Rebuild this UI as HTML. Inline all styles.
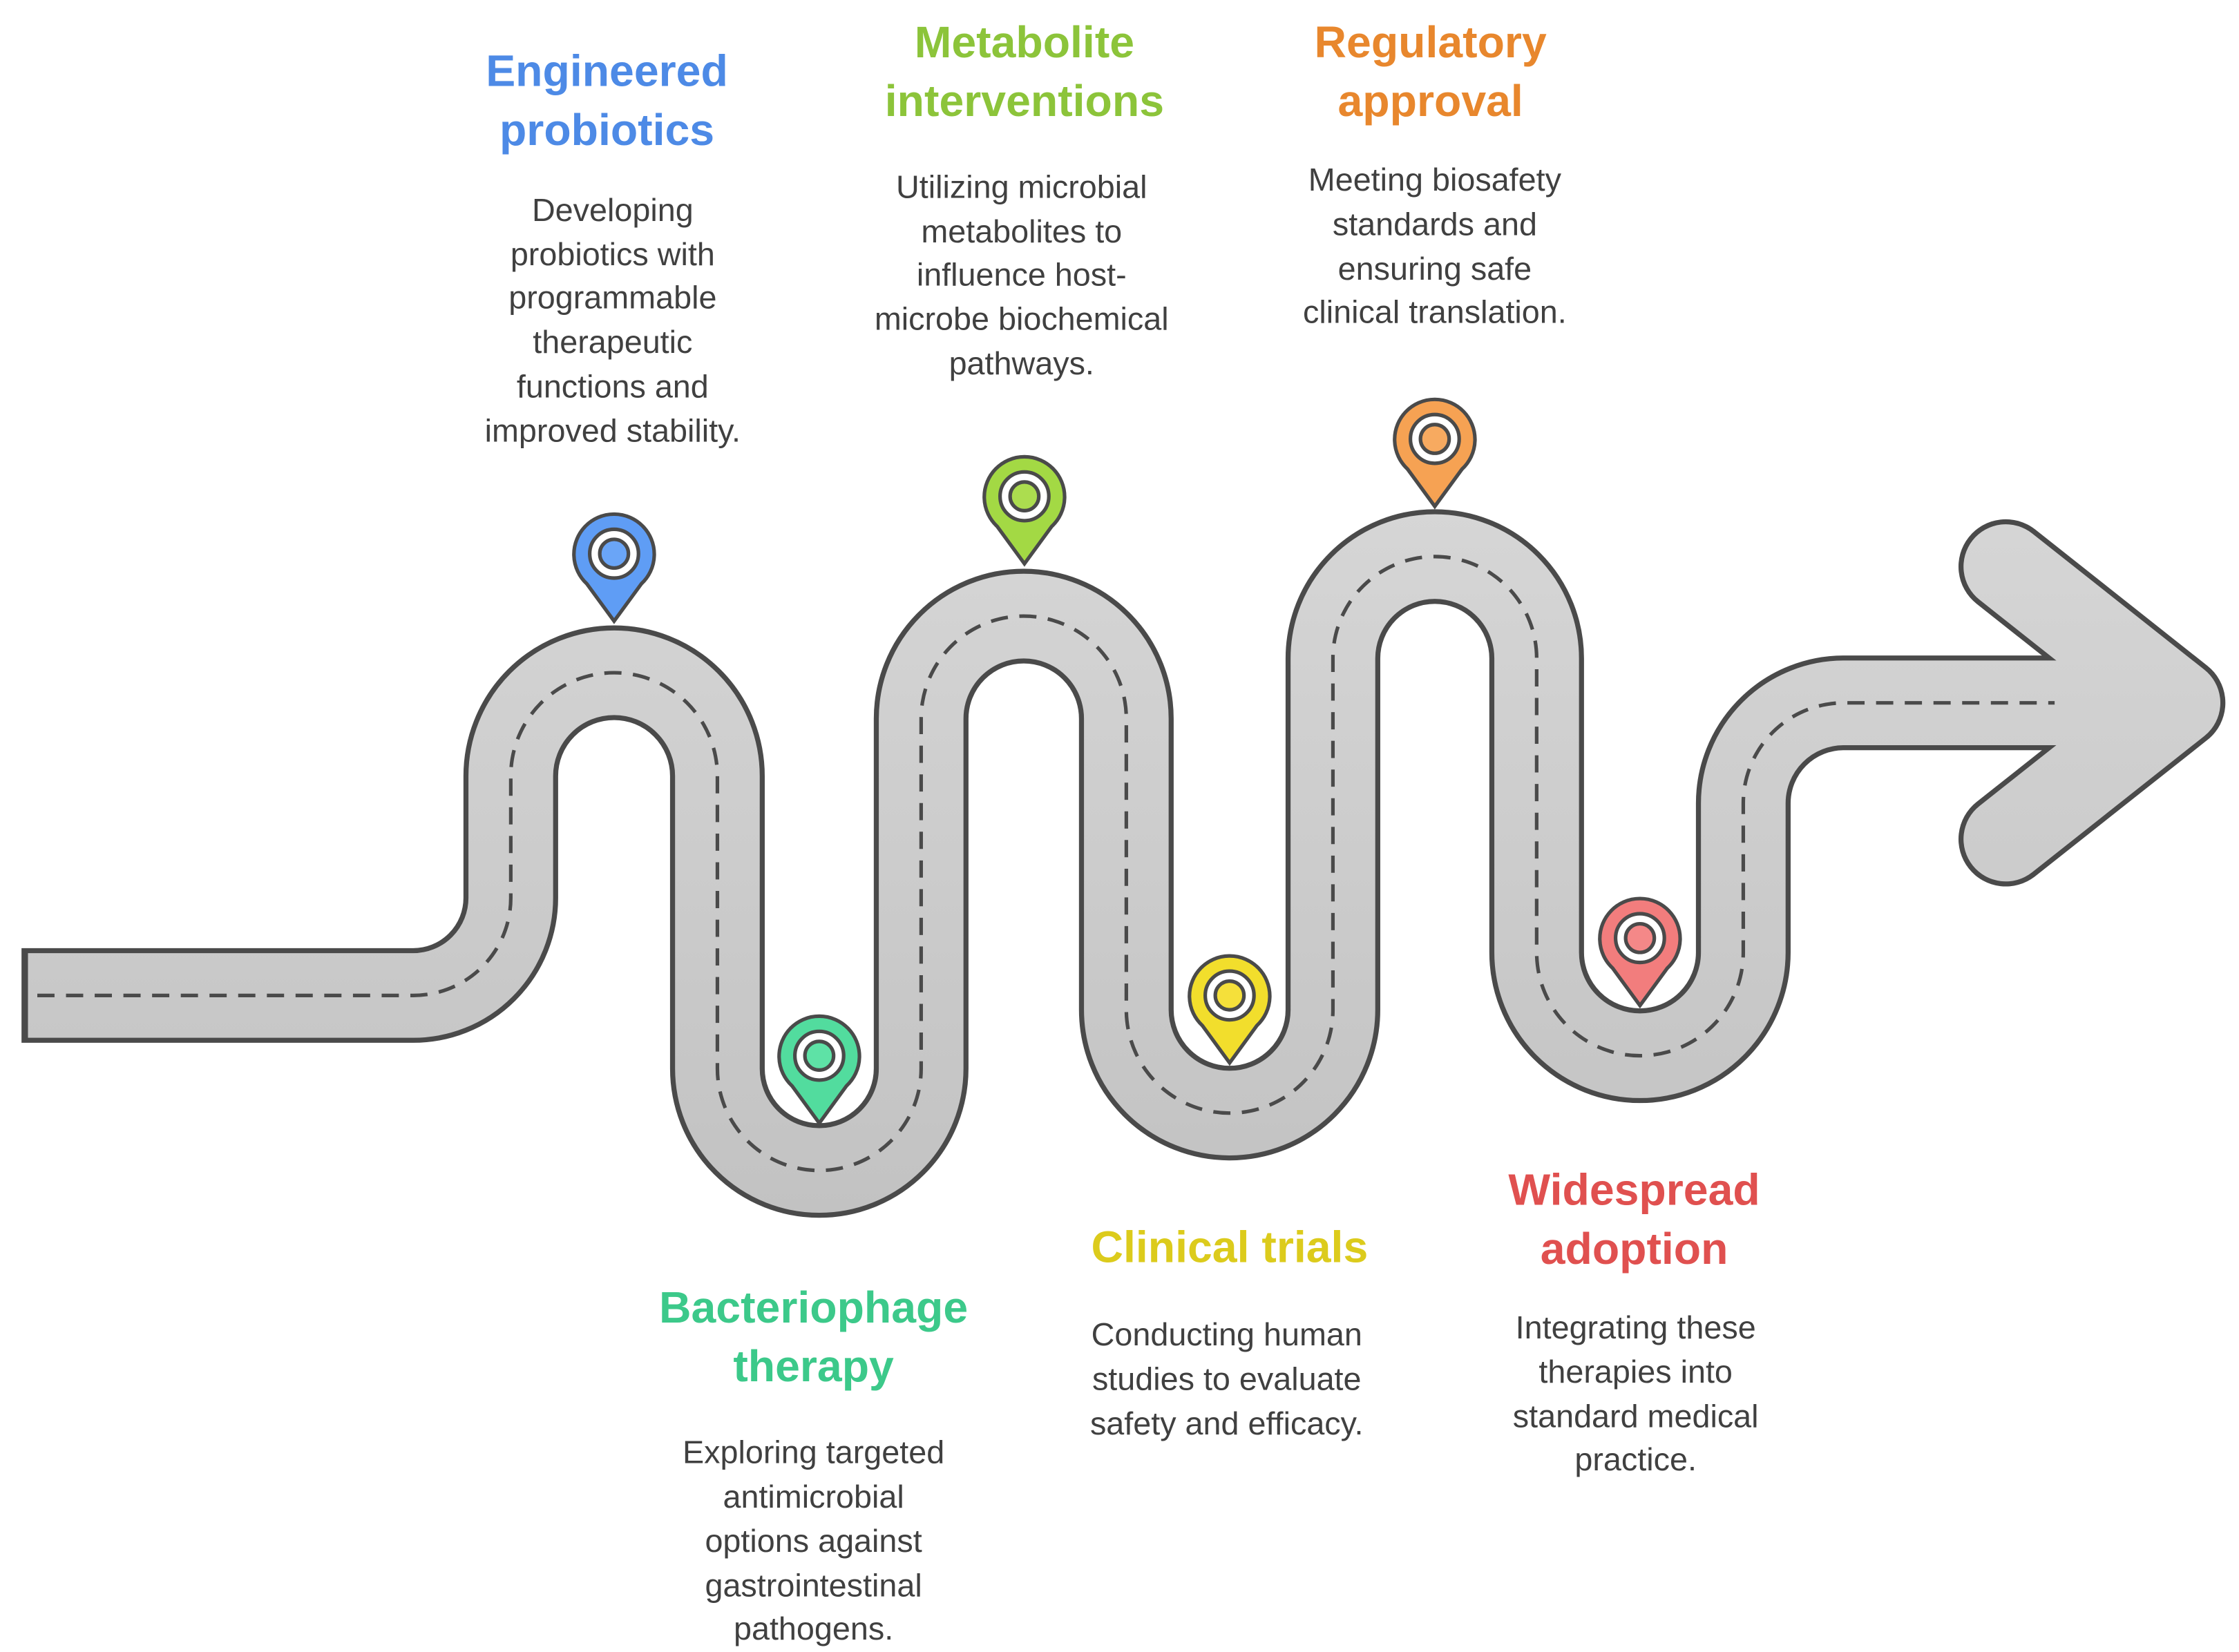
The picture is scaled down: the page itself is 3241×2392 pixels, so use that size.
<!DOCTYPE html>
<html><head><meta charset="utf-8"><style>
html,body{margin:0;padding:0;background:#fff;}
svg{display:block;}
.t{font-family:"Liberation Sans",sans-serif;font-weight:bold;font-size:31px;text-anchor:middle;}
.b{font-family:"Liberation Sans",sans-serif;font-size:22.5px;fill:#404040;text-anchor:middle;}
</style></head><body>
<svg width="3241" height="2392" viewBox="0 0 1560.5 1151.7" xmlns="http://www.w3.org/2000/svg">
<defs>
<linearGradient id="g" gradientUnits="userSpaceOnUse" x1="0" y1="350" x2="0" y2="850">
<stop offset="0" stop-color="#d6d6d6"/><stop offset="1" stop-color="#c2c2c2"/></linearGradient>
</defs>
<g fill="none">
<!-- dark outline -->
<path d="M15 694 H288 A68 68 0 0 0 356 626 V541 A72 72 0 0 1 500 541 V745 A71 71 0 0 0 642 745 V501 A71.5 71.5 0 0 1 785 501 V704 A72 72 0 0 0 929 704 V459 A71 71 0 0 1 1071 459 V664 A72 72 0 0 0 1215 664 V560 A70 70 0 0 1 1285 490 H1432" stroke="#4a4a4a" stroke-width="66"/>
<polyline points="1398,395 1518,490 1398,585" stroke="#4a4a4a" stroke-width="66" stroke-linecap="round" stroke-linejoin="round"/>
<!-- gray -->
<polyline points="1398,395 1518,490 1398,585" stroke="url(#g)" stroke-width="59" stroke-linecap="round" stroke-linejoin="round"/>
<path d="M19.5 694 H288 A68 68 0 0 0 356 626 V541 A72 72 0 0 1 500 541 V745 A71 71 0 0 0 642 745 V501 A71.5 71.5 0 0 1 785 501 V704 A72 72 0 0 0 929 704 V459 A71 71 0 0 1 1071 459 V664 A72 72 0 0 0 1215 664 V560 A70 70 0 0 1 1285 490 H1476" stroke="url(#g)" stroke-width="59"/>
<!-- dashed -->
<path d="M26 694 H288 A68 68 0 0 0 356 626 V541 A72 72 0 0 1 500 541 V745 A71 71 0 0 0 642 745 V501 A71.5 71.5 0 0 1 785 501 V704 A72 72 0 0 0 929 704 V459 A71 71 0 0 1 1071 459 V664 A72 72 0 0 0 1215 664 V560 A70 70 0 0 1 1285 490 H1432" stroke="#4a4a4a" stroke-width="2.5" stroke-dasharray="12 8"/>
</g>
<!-- pins -->
<g stroke="#4a4a4a" stroke-width="2.5">
<g transform="translate(428,386)"><path d="M-19 21 A28 28 0 1 1 19 21 L0 47 Z" fill="#5f9df5"/><circle r="17" fill="#fff"/><circle r="10" fill="#6aa5f7"/></g>
<g transform="translate(571,736)"><path d="M-19 21 A28 28 0 1 1 19 21 L0 47 Z" fill="#52dc9e"/><circle r="17" fill="#fff"/><circle r="10" fill="#5ee2a6"/></g>
<g transform="translate(714,346)"><path d="M-19 21 A28 28 0 1 1 19 21 L0 47 Z" fill="#a3d944"/><circle r="17" fill="#fff"/><circle r="10" fill="#acdd4f"/></g>
<g transform="translate(857,694)"><path d="M-19 21 A28 28 0 1 1 19 21 L0 47 Z" fill="#f2de2c"/><circle r="17" fill="#fff"/><circle r="10" fill="#f5e03a"/></g>
<g transform="translate(1000,306)"><path d="M-19 21 A28 28 0 1 1 19 21 L0 47 Z" fill="#f6a253"/><circle r="17" fill="#fff"/><circle r="10" fill="#f7aa60"/></g>
<g transform="translate(1143,654)"><path d="M-19 21 A28 28 0 1 1 19 21 L0 47 Z" fill="#f27d7d"/><circle r="17" fill="#fff"/><circle r="10" fill="#f48888"/></g>
</g>
<!-- texts -->
<text x="423" y="60" class="t" fill="#4d8ae6">Engineered</text><text x="423" y="101" class="t" fill="#4d8ae6">probiotics</text>
<text class="b"><tspan x="427" y="154">Developing</tspan><tspan x="427" y="185">probiotics with</tspan><tspan x="427" y="215">programmable</tspan><tspan x="427" y="246">therapeutic</tspan><tspan x="427" y="277">functions and</tspan><tspan x="427" y="308">improved stability.</tspan></text>

<text x="714" y="40" class="t" fill="#8cc43a">Metabolite</text><text x="714" y="81" class="t" fill="#8cc43a">interventions</text>
<text class="b"><tspan x="712" y="138">Utilizing microbial</tspan><tspan x="712" y="169">metabolites to</tspan><tspan x="712" y="199">influence host-</tspan><tspan x="712" y="230">microbe biochemical</tspan><tspan x="712" y="261">pathways.</tspan></text>

<text x="997" y="40" class="t" fill="#e8872d">Regulatory</text><text x="997" y="81" class="t" fill="#e8872d">approval</text>
<text class="b"><tspan x="1000" y="133">Meeting biosafety</tspan><tspan x="1000" y="164">standards and</tspan><tspan x="1000" y="195">ensuring safe</tspan><tspan x="1000" y="225">clinical translation.</tspan></text>

<text x="567" y="922" class="t" fill="#3cc98a">Bacteriophage</text><text x="567" y="963" class="t" fill="#3cc98a">therapy</text>
<text class="b"><tspan x="567" y="1020">Exploring targeted</tspan><tspan x="567" y="1051">antimicrobial</tspan><tspan x="567" y="1082">options against</tspan><tspan x="567" y="1113">gastrointestinal</tspan><tspan x="567" y="1143">pathogens.</tspan></text>

<text x="857" y="880" class="t" fill="#dccb1c">Clinical trials</text>
<text class="b"><tspan x="855" y="938">Conducting human</tspan><tspan x="855" y="969">studies to evaluate</tspan><tspan x="855" y="1000">safety and efficacy.</tspan></text>

<text x="1139" y="840" class="t" fill="#e0504f">Widespread</text><text x="1139" y="881" class="t" fill="#e0504f">adoption</text>
<text class="b"><tspan x="1140" y="933">Integrating these</tspan><tspan x="1140" y="964">therapies into</tspan><tspan x="1140" y="995">standard medical</tspan><tspan x="1140" y="1025">practice.</tspan></text>
</svg>
</body></html>
